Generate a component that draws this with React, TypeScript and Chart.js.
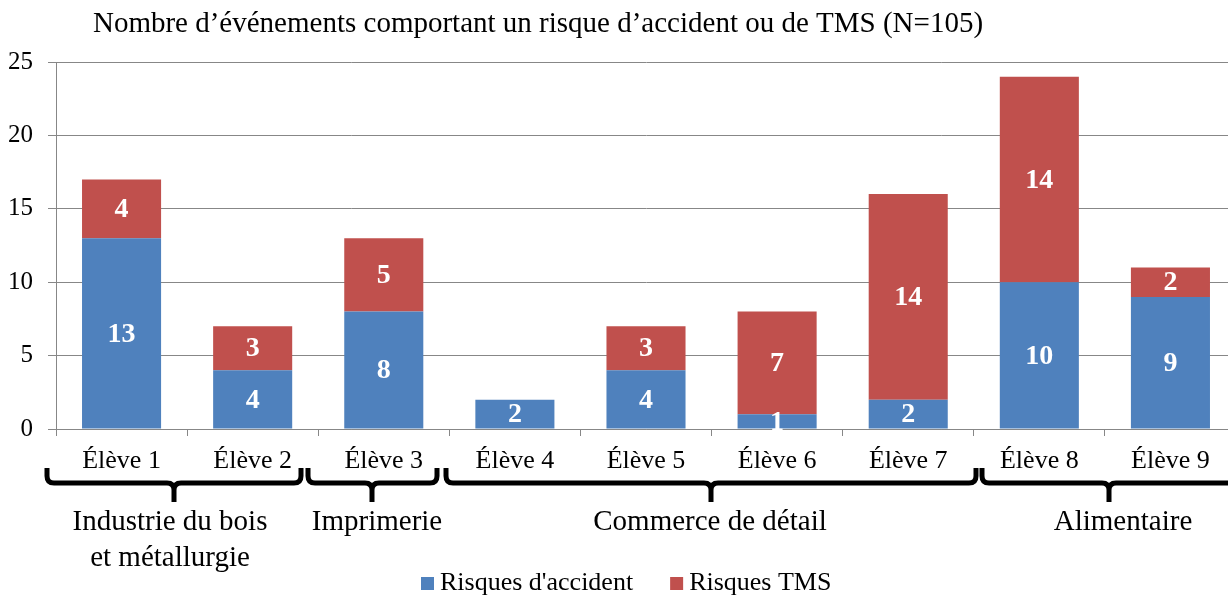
import React, { useEffect, useRef } from "react";
import { Chart, registerables } from "chart.js";

Chart.register(...registerables);

const categories = ["Élève 1", "Élève 2", "Élève 3", "Élève 4", "Élève 5", "Élève 6", "Élève 7", "Élève 8", "Élève 9"];
const accidentValues = [13, 4, 8, 2, 4, 1, 2, 10, 9];
const tmsValues = [4, 3, 5, 0, 3, 7, 14, 14, 2];
const seriesLabels = ["Risques d'accident", "Risques TMS"];
const yMin = 0;
const yMax = 25;
const yStep = 5;
const chartTitle = "Nombre d’événements comportant un risque d’accident ou de TMS (N=105)";
const groupLabels = [["Industrie du bois", "et métallurgie"], ["Imprimerie"], ["Commerce de détail"], ["Alimentaire"]];

const SERIF = '"Liberation Serif", "Times New Roman", serif';
const BLUE = "#4F81BD";
const RED = "#C0504D";
const GRID = "#878787";

// decorative brace geometry (pixels)
const braceGeom = [
  { x1: 47, x2: 301, xm: 174, lx: 170 },
  { x1: 308, x2: 437, xm: 372, lx: 377 },
  { x1: 446, x2: 976, xm: 711, lx: 710 },
  { x1: 982, x2: 1240, xm: 1109, lx: 1123 },
];

function drawBrace(ctx: CanvasRenderingContext2D, x1: number, x2: number, xm: number) {
  const yTop = 468;
  const yMid = 483;
  const yTip = 502;
  const r = 7;
  ctx.beginPath();
  ctx.moveTo(x1, yTop);
  ctx.lineTo(x1, yMid - r);
  ctx.quadraticCurveTo(x1, yMid, x1 + r, yMid);
  ctx.lineTo(xm - r, yMid);
  ctx.quadraticCurveTo(xm, yMid, xm, yMid + r);
  ctx.lineTo(xm, yTip);
  ctx.moveTo(xm, yMid + r);
  ctx.quadraticCurveTo(xm, yMid, xm + r, yMid);
  ctx.lineTo(x2 - r, yMid);
  ctx.quadraticCurveTo(x2, yMid, x2, yMid - r);
  ctx.lineTo(x2, yTop);
  ctx.stroke();
}

const decorPlugin = {
  id: "decor",
  afterDatasetsDraw(chart: any) {
    const ctx: CanvasRenderingContext2D = chart.ctx;
    ctx.save();
    ctx.font = `bold 28px ${SERIF}`;
    ctx.fillStyle = "#ffffff";
    ctx.textAlign = "center";
    ctx.textBaseline = "middle";
    chart.data.datasets.forEach((ds: any, i: number) => {
      const meta = chart.getDatasetMeta(i);
      meta.data.forEach((el: any, j: number) => {
        const v = ds.data[j];
        if (!v) return;
        const p = el.getProps(["x", "y", "base"], true);
        ctx.fillText(String(v), p.x, (p.y + p.base) / 2 + 1);
      });
    });
    ctx.restore();
  },
  afterDraw(chart: any) {
    const ctx: CanvasRenderingContext2D = chart.ctx;
    ctx.save();
    // title
    ctx.fillStyle = "#000";
    ctx.font = `29px ${SERIF}`;
    ctx.textAlign = "center";
    ctx.textBaseline = "alphabetic";
    ctx.fillText(chartTitle, 538, 32);

    // braces
    ctx.strokeStyle = "#000";
    ctx.lineWidth = 5;
    ctx.lineJoin = "round";
    braceGeom.forEach((b) => drawBrace(ctx, b.x1, b.x2, b.xm));

    // group labels
    ctx.font = `29px ${SERIF}`;
    ctx.textBaseline = "alphabetic";
    groupLabels.forEach((lines, i) => {
      lines.forEach((line, k) => {
        ctx.fillText(line, braceGeom[i].lx, 530 + k * 36);
      });
    });

    // legend
    ctx.font = `26px ${SERIF}`;
    ctx.textAlign = "left";
    let x = 421;
    chart.data.datasets.forEach((ds: any) => {
      ctx.fillStyle = ds.backgroundColor;
      ctx.fillRect(x, 577, 13, 13);
      ctx.fillStyle = "#000";
      ctx.fillText(ds.label, x + 19, 590);
      x += 19 + ctx.measureText(ds.label).width + 37;
    });
    ctx.restore();
  },
};

export default function App() {
  const ref = useRef<HTMLCanvasElement>(null);
  useEffect(() => {
    if (!ref.current) return;
    const chart = new Chart(ref.current, {
      type: "bar",
      data: {
        labels: categories,
        datasets: [
          { label: seriesLabels[0], data: accidentValues, backgroundColor: BLUE, stack: "s" },
          { label: seriesLabels[1], data: tmsValues, backgroundColor: RED, stack: "s" },
        ],
      },
      options: {
        responsive: false,
        animation: false,
        devicePixelRatio: 1,
        layout: { padding: { top: 62, left: 0, right: 4, bottom: 0 } },
        plugins: { legend: { display: false }, title: { display: false }, tooltip: { enabled: false } },
        datasets: { bar: { barPercentage: 1, categoryPercentage: 0.603 } },
        scales: {
          x: {
            stacked: true,
            afterFit: (s: any) => { s.height = 167; },
            grid: { drawOnChartArea: false, drawTicks: true, tickLength: 7, color: GRID, offset: true },
            border: { color: GRID, width: 1 },
            ticks: { font: { family: SERIF, size: 26 }, color: "#000", padding: 10, maxRotation: 0, autoSkip: false },
          },
          y: {
            stacked: true,
            min: yMin,
            max: yMax,
            afterFit: (s: any) => { s.width = 56; },
            grid: { color: GRID, tickLength: 8, lineWidth: 1 },
            border: { color: GRID, width: 1 },
            ticks: { stepSize: yStep, font: { family: SERIF, size: 25 }, color: "#000", padding: 15 },
          },
        },
      },
      plugins: [decorPlugin],
    });
    return () => chart.destroy();
  }, []);
  return (
    <div style={{ position: "fixed", left: 0, top: 0, width: 1228, height: 596, overflow: "hidden", background: "#fff" }}>
      <canvas ref={ref} width={1240} height={596} style={{ width: 1240, height: 596, display: "block" }} />
    </div>
  );
}
